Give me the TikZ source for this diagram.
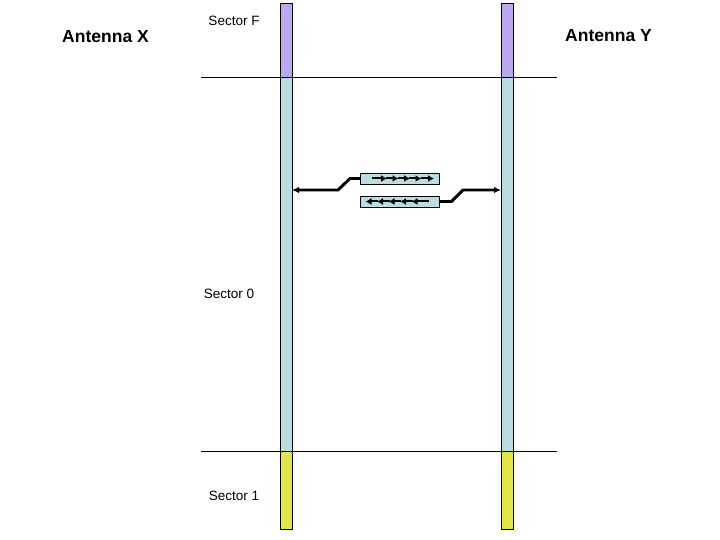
\documentclass[tikz,border=0pt]{standalone}
\usepackage{fontspec}
\setmainfont{Liberation Sans}
\usetikzlibrary{arrows.meta}
\definecolor{secF}{RGB}{187,168,238}
\definecolor{sec0}{RGB}{184,222,226}
\definecolor{sec1}{RGB}{227,230,72}
\tikzset{
  bar/.style={draw=black, line width=0.9pt, minimum width=12pt, inner sep=0pt, outer sep=0pt},
  fbar/.style={bar, fill=secF, minimum height=74pt},
  zbar/.style={bar, fill=sec0, minimum height=374pt},
  obar/.style={bar, fill=sec1, minimum height=78pt},
  pkt/.style={draw=black, line width=0.9pt, fill=sec0, minimum width=79pt, minimum height=11pt, inner sep=0pt, outer sep=0pt},
  seclabel/.style={font=\fontsize{13.5}{15}\selectfont, inner sep=0pt},
  antlabel/.style={font=\fontsize{17.5}{19}\selectfont\bfseries, inner sep=0pt},
  sepline/.style={draw=black, line width=0.8pt},
  conn/.style={draw=black, line width=2.9pt, -{Latex[length=7pt,width=6.5pt]}},
  inarrow/.style={draw=black, line width=2pt, -{Latex[length=6pt,width=7pt]}, shorten >=-1pt}
}
\begin{document}
\begin{tikzpicture}[x=1pt,y=-1pt]
\useasboundingbox (0,0) rectangle (720,540);
% bars
\node[zbar] (x0) at (286,264) {};
\node[fbar] (xF) at (286,40) {};
\node[obar] (x1) at (286,490) {};
\node[zbar] (y0) at (507,264) {};
\node[fbar] (yF) at (507,40) {};
\node[obar] (y1) at (507,490) {};
% separator lines
\coordinate (s1a) at (201,77);
\coordinate (s1b) at (557,77);
\coordinate (s2a) at (201,451);
\coordinate (s2b) at (557,451);
\draw[sepline] (s1a) -- (s1b);
\draw[sepline] (s2a) -- (s2b);
% labels
\node[antlabel] (antx) at (105.5,37) {Antenna X};
\node[antlabel] (anty) at (608.5,36) {Antenna Y};
\node[seclabel] (lF) at (234,21) {Sector F};
\node[seclabel] (l0) at (229,294) {Sector 0};
\node[seclabel] (l1) at (234,496) {Sector 1};
% packets
\node[pkt] (pa) at (399.5,178.5) {};
\node[pkt] (pb) at (399.5,201.5) {};
% arrows in packet a (pointing right)
\coordinate (a0) at (372,178.5);
\coordinate (a1) at (386,178.5);
\coordinate (a2) at (397.5,178.5);
\coordinate (a3) at (409,178.5);
\coordinate (a4) at (420.5,178.5);
\coordinate (a5) at (433,178.5);
\foreach \s/\e in {a0/a1,a1/a2,a2/a3,a3/a4,a4/a5}
  \draw[inarrow] (\s) -- (\e);
% arrows in packet b (pointing left)
\coordinate (b0) at (428.5,201.5);
\coordinate (b1) at (412.5,201.5);
\coordinate (b2) at (401,201.5);
\coordinate (b3) at (389.5,201.5);
\coordinate (b4) at (378,201.5);
\coordinate (b5) at (366.5,201.5);
\foreach \s/\e in {b0/b1,b1/b2,b2/b3,b3/b4,b4/b5}
  \draw[inarrow] (\s) -- (\e);
% connectors
\coordinate (ka) at (350,178.5);
\coordinate (kb) at (338,190);
\draw[conn] (pa.west) -- (ka) -- (kb) -- (kb -| x0.east);
\coordinate (kc) at (451.5,201.5);
\coordinate (kd) at (463,190);
\draw[conn] (pb.east) -- (kc) -- (kd) -- (kd -| y0.west);
\end{tikzpicture}
\end{document}
